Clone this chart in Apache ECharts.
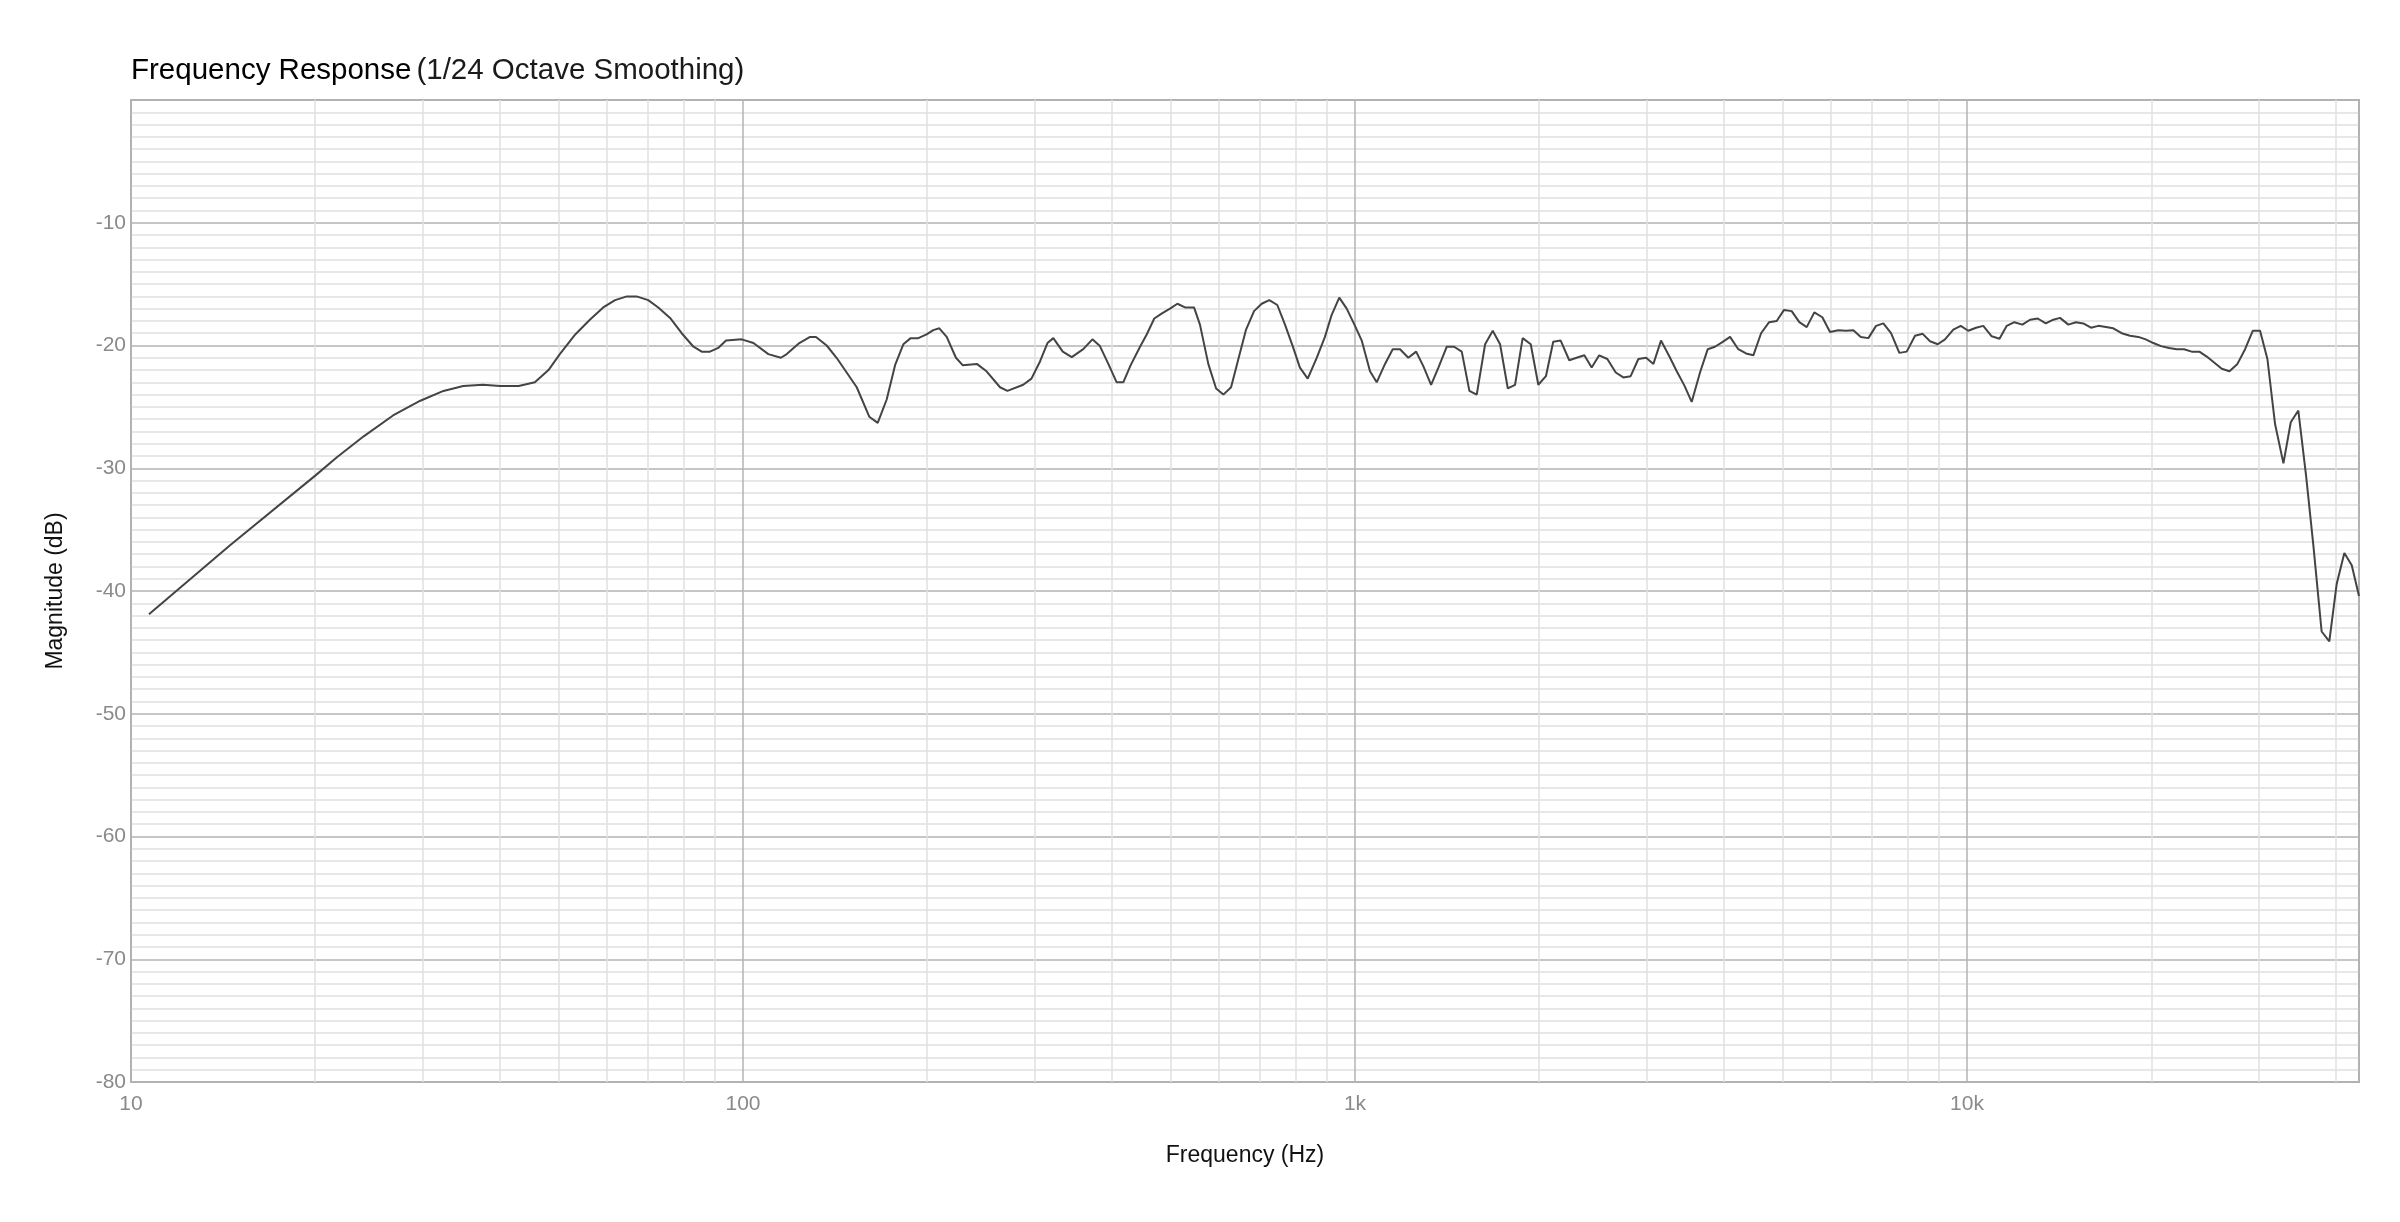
<!DOCTYPE html>
<html>
<head>
<meta charset="utf-8">
<title>Frequency Response</title>
<script src="https://cdn.jsdelivr.net/npm/echarts@6/dist/echarts.min.js"></script>
<style>
  html, body { margin: 0; padding: 0; background: #fff; }
  #panel { width: 2400px; height: 1222px; }
</style>
</head>
<body>
<div id="panel"></div>
<script>
var freqHz = [
  10.7, 14.5, 20.0, 21.7, 24.0, 26.8, 29.7, 32.4, 34.9, 37.6, 40.1, 43.0, 45.7, 48.1, 50.2,
  53.2, 56.2, 59.1, 61.8, 64.6, 67.0, 70.0, 72.7, 76.0, 79.4, 83.0, 85.6, 88.3, 91.1, 93.8,
  99.5, 104, 110, 115.3, 117.9, 123.6, 128.7, 131.6, 137, 142.2, 147.7, 153.4, 160.8, 166,
  171.7, 177.2, 182.8, 187.9, 193.4, 199.5, 204.6, 209.3, 215.2, 222.8, 228.5, 241, 250, 263,
  270.4, 287, 296, 305.7, 314.4, 321.4, 333, 344.5, 359.7, 372.3, 383, 395.3, 407.9, 418.2,
  430, 445.4, 456.7, 469.9, 483, 498.5, 512.6, 527.5, 545.7, 558, 575.8, 593, 609.4, 627.3,
  644.8, 663.7, 683.9, 703.9, 724.4, 746.5, 768.4, 791, 812.8, 837, 865.8, 893, 916, 942.5,
  969.2, 1000, 1025.6, 1058, 1085, 1119.5, 1152.5, 1184.6, 1222, 1258.6, 1293.5, 1331.5,
  1368.5, 1412.4, 1451.8, 1494.2, 1537.7, 1580.8, 1631.5, 1679, 1726, 1777, 1826, 1879, 1937,
  1993, 2051, 2108, 2168, 2239, 2302, 2370, 2436, 2506, 2584, 2667, 2744, 2821, 2904, 2990,
  3073, 3162, 3264, 3355, 3452, 3549, 3662, 3770, 3874, 3989, 4100, 4229, 4354, 4476, 4608,
  4749, 4887, 5023, 5170, 5321, 5471, 5630, 5802, 5972, 6162, 6343, 6521, 6705, 6899, 7102,
  7300, 7514, 7752, 7970, 8223, 8464, 8701, 8957, 9205, 9497, 9765, 10048, 10344, 10631,
  10973, 11300, 11612, 11951, 12315, 12677, 13048, 13448, 13837, 14190, 14641, 15066, 15488,
  15943, 16391, 16866, 17339, 17893, 18463, 19050, 19587, 20160, 20750, 21385, 22011, 22627,
  23288, 23968, 24645, 25365, 26078, 26839, 27659, 28467, 29300, 30117, 30962, 31866, 32885,
  33806, 34781, 35809, 36808, 37970, 39081, 40187, 41357, 42523, 43700
];
var magnitudeDb = [
  -41.9, -36.3, -30.6, -29.1, -27.4, -25.7, -24.5, -23.7, -23.3, -23.2, -23.3, -23.3, -23.0, -22.0, -20.7,
  -19.1, -17.9, -16.9, -16.3, -16.0, -16.0, -16.3, -16.9, -17.75, -19.0, -20.1, -20.5, -20.5, -20.2, -19.6,
  -19.5, -19.8, -20.7, -21.0, -20.7, -19.8, -19.3, -19.3, -20.0, -21.0, -22.2, -23.4, -25.8, -26.3,
  -24.4, -21.6, -19.9, -19.4, -19.4, -19.1, -18.75, -18.6, -19.3, -21.0, -21.6, -21.5, -22.1, -23.4,
  -23.7, -23.2, -22.7, -21.3, -19.8, -19.4, -20.5, -20.95, -20.3, -19.5, -20.05, -21.5, -23.0, -23.0,
  -21.6, -20.1, -19.1, -17.8, -17.4, -17.0, -16.6, -16.9, -16.9, -18.3, -21.5, -23.5, -24.0, -23.4,
  -21.1, -18.7, -17.2, -16.6, -16.3, -16.7, -18.3, -20.05, -21.8, -22.7, -21.0, -19.3, -17.5, -16.1,
  -17.0, -18.4, -19.6, -22.1, -23.0, -21.5, -20.3, -20.3, -21.0, -20.5, -21.7, -23.2,
  -21.8, -20.1, -20.1, -20.5, -23.7, -24.0, -19.9, -18.8, -19.9, -23.5, -23.2, -19.4, -19.9,
  -23.2, -22.5, -19.7, -19.6, -21.2, -21.0, -20.8, -21.8, -20.8, -21.1, -22.2, -22.6, -22.5, -21.1, -21.0,
  -21.5, -19.6, -20.9, -22.1, -23.25, -24.6, -22.2, -20.3, -20.1, -19.7, -19.3, -20.3, -20.65, -20.8, -19.0,
  -18.1, -18.0, -17.1, -17.2, -18.1, -18.5, -17.3, -17.7, -18.9, -18.75, -18.8, -18.75, -19.3, -19.4, -18.4,
  -18.2, -19.0, -20.6, -20.5, -19.2, -19.05, -19.65, -19.9, -19.5, -18.7, -18.4, -18.8, -18.55, -18.4,
  -19.25, -19.45, -18.4, -18.1, -18.3, -17.9, -17.8, -18.2, -17.9, -17.75, -18.3, -18.1, -18.2,
  -18.55, -18.4, -18.5, -18.6, -19.0, -19.2, -19.3, -19.5, -19.8, -20.05, -20.2, -20.3, -20.3,
  -20.5, -20.5, -20.9, -21.4, -21.9, -22.1, -21.5, -20.3, -18.8, -18.8, -21.1, -26.4, -29.6,
  -26.25, -25.3, -30.6, -36.3, -43.3, -44.1, -39.4, -36.9, -37.9, -40.4
];

// axis ticks
var xLabels = { 10: '10', 100: '100', 1000: '1k', 10000: '10k' };
var decades = [10, 100, 1000, 10000];
var minorSteps = [2, 3, 4, 5, 6, 7, 8, 9];
var xMin = 10, xMax = 43700;

var minorFreqs = [];
decades.forEach(function (d) {
  minorSteps.forEach(function (m) {
    if (d * m < xMax) minorFreqs.push(d * m);
  });
});

var FONT = '"Liberation Sans", Helvetica, Arial, sans-serif';
var points = freqHz.map(function (f, i) { return [f, magnitudeDb[i]]; });

var myChart = echarts.init(document.getElementById('panel'));
myChart.setOption({
  animation: false,
  backgroundColor: '#ffffff',
  title: {
    left: 126,
    top: 51,
    text: '{a|Frequency Response} {b|(1/24 Octave Smoothing)}',
    textStyle: {
      fontWeight: 'normal',
      rich: {
        a: { fontFamily: FONT, fontSize: 29.5, fontWeight: 'normal', color: '#000000' },
        b: { fontFamily: FONT, fontSize: 29.5, fontWeight: 'normal', color: '#1a1a1a' }
      }
    }
  },
  grid: {
    left: 131, right: 41, top: 100, bottom: 140,
    show: true, borderColor: '#b0b0b0', borderWidth: 2
  },
  xAxis: {
    type: 'log',
    logBase: 10,
    min: xMin,
    max: xMax,
    name: 'Frequency (Hz)',
    nameLocation: 'middle',
    nameGap: 62,
    nameTextStyle: { fontFamily: FONT, fontSize: 23, color: '#111' },
    axisLine: { show: false },
    axisTick: { show: false },
    axisLabel: {
      fontFamily: FONT, fontSize: 21, color: '#8a8a8a', margin: 12,
      showMaxLabel: false,
      formatter: function (v) {
        var r = Math.round(v);
        return xLabels[r] || '';
      }
    },
    splitLine: { show: true, lineStyle: { color: '#b3b3b3', width: 1.5 } }
  },
  yAxis: {
    type: 'value',
    min: -80,
    max: 0,
    interval: 10,
    name: 'Magnitude (dB)',
    nameLocation: 'middle',
    nameGap: 64,
    nameTextStyle: { fontFamily: FONT, fontSize: 23, color: '#111' },
    axisLine: { show: false },
    axisTick: { show: false },
    axisLabel: {
      fontFamily: FONT, fontSize: 21, color: '#8a8a8a', margin: 5,
      padding: [10, 0, 0, 0],
      formatter: function (v) { return v === 0 ? '' : String(v); }
    },
    splitLine: { show: true, lineStyle: { color: '#b3b3b3', width: 1.5 } },
    minorTick: { show: false, splitNumber: 10 },
    minorSplitLine: { show: true, lineStyle: { color: '#e0e0e0', width: 1.5 } }
  },
  series: [{
    name: 'Magnitude',
    type: 'line',
    data: points,
    showSymbol: false,
    symbol: 'none',
    smooth: false,
    clip: true,
    z: 3,
    lineStyle: { color: '#444444', width: 2 },
    markLine: {
      silent: true,
      z: 1,
      symbol: ['none', 'none'],
      label: { show: false },
      lineStyle: { color: '#e0e0e0', width: 1.5, type: 'solid' },
      data: minorFreqs.map(function (f) { return { xAxis: f }; })
    }
  }]
});
</script>
</body>
</html>
